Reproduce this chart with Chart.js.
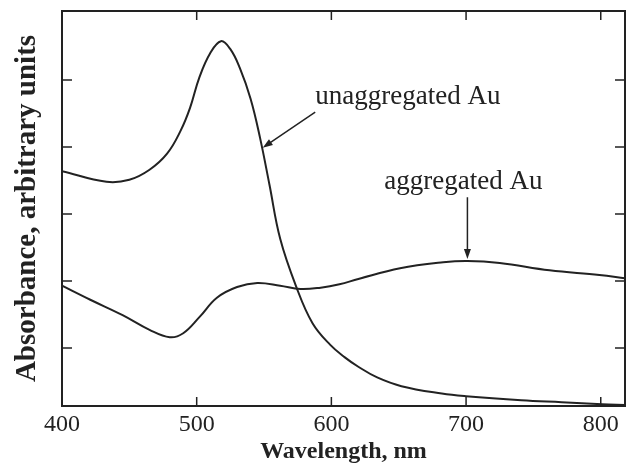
<!DOCTYPE html>
<html>
<head>
<meta charset="utf-8">
<script src="https://cdn.jsdelivr.net/npm/chart.js@4/dist/chart.umd.min.js"></script>
<style>
  body { margin: 0; background: #fff; }
  canvas { display: block; }
</style>
</head>
<body>
<canvas id="spectra" width="629" height="464"></canvas>
<script>
// wavelength (nm) / absorbance pairs for each sample
const unaggWavelength = [400, 433, 450, 465, 478, 488, 495, 502, 510, 518, 525, 532, 540, 547, 554, 562, 574, 586, 599, 610, 620, 634, 652, 682, 700, 741, 771, 801, 818];
const unaggAbsorbance = [3.64, 3.48, 3.51, 3.66, 3.90, 4.24, 4.58, 5.04, 5.40, 5.58, 5.46, 5.18, 4.72, 4.14, 3.44, 2.63, 1.91, 1.37, 1.05, 0.86, 0.72, 0.56, 0.43, 0.32, 0.28, 0.22, 0.19, 0.16, 0.15];

const aggWavelength = [400, 421, 445, 465, 480, 490, 502, 515, 530, 545, 562, 577, 592, 606, 620, 651, 683, 701, 725, 762, 799, 818];
const aggAbsorbance = [1.93, 1.72, 1.49, 1.27, 1.16, 1.22, 1.46, 1.75, 1.91, 1.97, 1.93, 1.88, 1.90, 1.95, 2.03, 2.19, 2.28, 2.30, 2.27, 2.16, 2.09, 2.04];

const xTicks = [400, 500, 600, 700, 800];
const yTicks = [1, 2, 3, 4, 5];

const labels = ['unaggregated Au', 'aggregated Au'];
// arrow notes, in wavelength / absorbance units
const notes = [
  { text: labels[0], x: 588, y: 4.75, align: 'left', from: [588, 4.52], to: [549, 3.99] },
  { text: labels[1], x: 698, y: 3.48, align: 'center', from: [701, 3.25], to: [701, 2.33] }
];

const ink = '#222';
const serif = '"Liberation Serif", "Times New Roman", serif';

const toPoints = (xs, ys) => xs.map((x, i) => ({ x: x, y: ys[i] }));

const frame = {
  id: 'frame',
  afterDatasetsDraw(chart) {
    const { ctx, chartArea: a, scales } = chart;
    ctx.save();
    ctx.strokeStyle = ink;
    ctx.lineWidth = 2;
    ctx.strokeRect(a.left, a.top, a.right - a.left, a.bottom - a.top);

    // inward tick marks on all four sides
    ctx.lineWidth = 1.5;
    ctx.beginPath();
    xTicks.forEach(v => {
      const px = scales.x.getPixelForValue(v);
      ctx.moveTo(px, a.bottom); ctx.lineTo(px, a.bottom - 9);
      ctx.moveTo(px, a.top); ctx.lineTo(px, a.top + 9);
    });
    yTicks.forEach(v => {
      const py = scales.y.getPixelForValue(v);
      ctx.moveTo(a.left, py); ctx.lineTo(a.left + 10, py);
      ctx.moveTo(a.right, py); ctx.lineTo(a.right - 10, py);
    });
    ctx.stroke();

    // labels with arrows
    ctx.fillStyle = ink;
    ctx.font = '27px ' + serif;
    ctx.textBaseline = 'middle';
    notes.forEach(n => {
      ctx.textAlign = n.align;
      ctx.fillText(n.text, scales.x.getPixelForValue(n.x), scales.y.getPixelForValue(n.y));
      const x0 = scales.x.getPixelForValue(n.from[0]), y0 = scales.y.getPixelForValue(n.from[1]);
      const x1 = scales.x.getPixelForValue(n.to[0]), y1 = scales.y.getPixelForValue(n.to[1]);
      const ang = Math.atan2(y1 - y0, x1 - x0);
      ctx.lineWidth = 1.5;
      ctx.beginPath();
      ctx.moveTo(x0, y0);
      ctx.lineTo(x1 - 6 * Math.cos(ang), y1 - 6 * Math.sin(ang));
      ctx.stroke();
      ctx.beginPath();
      ctx.moveTo(x1, y1);
      ctx.lineTo(x1 - 10 * Math.cos(ang) + 3.5 * Math.sin(ang), y1 - 10 * Math.sin(ang) - 3.5 * Math.cos(ang));
      ctx.lineTo(x1 - 10 * Math.cos(ang) - 3.5 * Math.sin(ang), y1 - 10 * Math.sin(ang) + 3.5 * Math.cos(ang));
      ctx.closePath();
      ctx.fill();
    });
    ctx.restore();
  }
};

new Chart(document.getElementById('spectra'), {
  type: 'line',
  data: {
    datasets: [
      { label: labels[0], data: toPoints(unaggWavelength, unaggAbsorbance) },
      { label: labels[1], data: toPoints(aggWavelength, aggAbsorbance) }
    ]
  },
  options: {
    responsive: false,
    animation: false,
    layout: { padding: { top: 11, right: 4, left: 0, bottom: 0 } },
    elements: {
      line: { borderColor: ink, borderWidth: 2, tension: 0.4, fill: false },
      point: { radius: 0 }
    },
    plugins: { legend: { display: false }, tooltip: { enabled: false } },
    scales: {
      x: {
        type: 'linear',
        min: 400,
        max: 818,
        afterBuildTicks: s => { s.ticks = xTicks.map(v => ({ value: v })); },
        afterFit: s => { s.height = 58; },
        grid: { display: false, drawTicks: false },
        border: { display: false },
        ticks: { color: ink, padding: 4, font: { family: serif, size: 24 } },
        title: {
          display: true,
          text: 'Wavelength, nm',
          color: ink,
          padding: 0,
          font: { family: serif, size: 24, weight: 'bold', lineHeight: 1 }
        }
      },
      y: {
        min: 0.134,
        max: 6.03,
        afterBuildTicks: s => { s.ticks = yTicks.map(v => ({ value: v })); },
        afterFit: s => { s.width = 62; },
        grid: { display: false, drawTicks: false },
        border: { display: false },
        ticks: { display: false },
        title: {
          display: true,
          text: 'Absorbance, arbitrary units',
          color: ink,
          padding: { top: 13, bottom: 0 },
          font: { family: serif, size: 29, weight: 'bold', lineHeight: 1 }
        }
      }
    }
  },
  plugins: [frame]
});
</script>
</body>
</html>
